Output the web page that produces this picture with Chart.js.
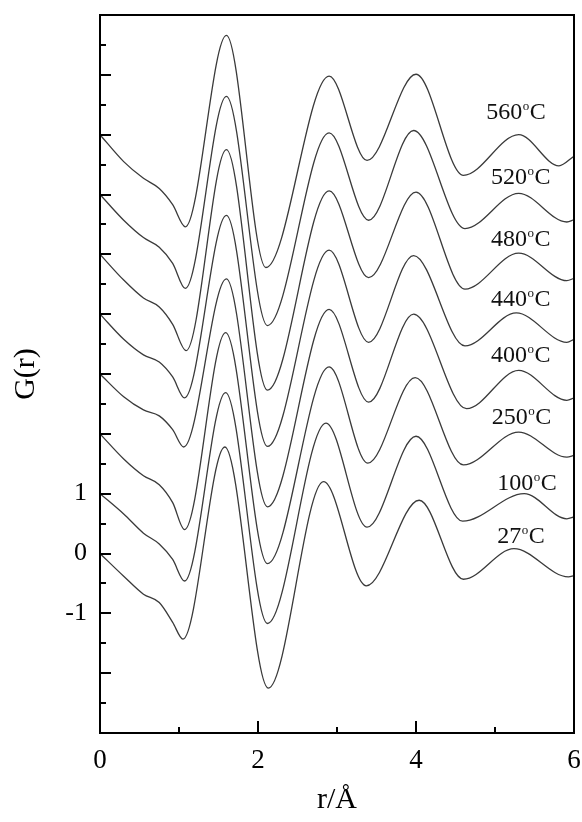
<!DOCTYPE html>
<html>
<head>
<meta charset="utf-8">
<script src="https://cdn.jsdelivr.net/npm/chart.js@4.4.1/dist/chart.umd.min.js"></script>
<style>
html,body{margin:0;padding:0;background:#fff;}
canvas{display:block;}
</style>
</head>
<body>
<canvas id="c" width="582" height="822"></canvas>
<script>
// ---- data ----
const temperatures = ['27', '100', '250', '400', '440', '480', '520', '560'];
const offsets = [0, 1, 2, 3, 4, 5, 6, 7];

const r27  = [0, 0.3, 0.55, 0.75, 0.92, 1.05, 1.58, 2.13, 2.83, 3.37, 4.04, 4.60, 5.24, 5.93, 6];
const g27  = [0, -0.38, -0.68, -0.82, -1.15, -1.43, 1.78, -2.25, 1.20, -0.54, 0.89, -0.43, 0.08, -0.39, -0.37];
const r100 = [0, 0.3, 0.55, 0.75, 0.92, 1.07, 1.59, 2.12, 2.86, 3.38, 4.00, 4.59, 5.37, 5.91, 6];
const g100 = [0, -0.34, -0.66, -0.84, -1.10, -1.46, 1.69, -2.17, 1.18, -0.56, 0.96, -0.46, 0.00, -0.42, -0.39];
const r250 = [0, 0.3, 0.55, 0.75, 0.92, 1.07, 1.59, 2.12, 2.90, 3.39, 3.99, 4.60, 5.30, 5.91, 6];
const g250 = [0, -0.42, -0.70, -0.85, -1.15, -1.60, 1.69, -2.17, 1.12, -0.49, 0.94, -0.52, 0.03, -0.39, -0.36];
const r400 = [0, 0.3, 0.55, 0.75, 0.92, 1.06, 1.60, 2.12, 2.90, 3.40, 3.97, 4.64, 5.30, 5.91, 6];
const g400 = [0, -0.38, -0.60, -0.70, -0.93, -1.22, 1.59, -2.22, 1.08, -0.47, 1.00, -0.58, 0.06, -0.44, -0.40];
const r440 = [0, 0.3, 0.55, 0.75, 0.92, 1.07, 1.60, 2.12, 2.90, 3.40, 3.97, 4.62, 5.27, 5.91, 6];
const g440 = [0, -0.42, -0.68, -0.80, -1.05, -1.40, 1.65, -2.21, 1.07, -0.47, 0.98, -0.53, 0.02, -0.47, -0.42];
const r480 = [0, 0.3, 0.55, 0.75, 0.92, 1.09, 1.60, 2.12, 2.90, 3.40, 4.00, 4.62, 5.30, 5.91, 6];
const g480 = [0, -0.43, -0.73, -0.88, -1.17, -1.61, 1.75, -2.27, 1.06, -0.39, 1.04, -0.58, 0.02, -0.44, -0.40];
const r520 = [0, 0.3, 0.55, 0.75, 0.92, 1.08, 1.60, 2.12, 2.90, 3.40, 3.97, 4.62, 5.30, 5.91, 6];
const g520 = [0, -0.43, -0.72, -0.88, -1.15, -1.57, 1.64, -2.19, 1.03, -0.43, 1.07, -0.57, 0.02, -0.46, -0.42];
const r560 = [0, 0.3, 0.55, 0.75, 0.92, 1.08, 1.60, 2.10, 2.90, 3.38, 4.00, 4.60, 5.30, 5.81, 6];
const g560 = [0, -0.45, -0.73, -0.90, -1.17, -1.54, 1.66, -2.22, 0.98, -0.43, 1.01, -0.68, 0.00, -0.52, -0.36];

const rSeries = [r27, r100, r250, r400, r440, r480, r520, r560];
const gSeries = [g27, g100, g250, g400, g440, g480, g520, g560];

const yLabelValues = [-1, 0, 1];
const xLabelValues = [0, 2, 4, 6];

// label anchor positions (data coordinates: r, G)
const labelR = [5.03, 5.03, 4.96, 4.95, 4.95, 4.95, 4.95, 4.89];
const labelG = [0.17, 1.06, 2.17, 3.20, 4.14, 5.14, 6.17, 7.27];

// ---- build datasets ----
const datasets = gSeries.map((g, i) => ({
  label: temperatures[i] + '°C',
  data: g.map((v, j) => ({ x: rSeries[i][j], y: v + offsets[i] })),
  borderColor: '#3a3a3a',
  borderWidth: 1.3,
  pointRadius: 0,
  fill: false,
  cubicInterpolationMode: 'monotone'
}));

const serif = "'Liberation Serif', 'Times New Roman', serif";

const framePlugin = {
  id: 'framePlugin',
  afterDraw(chart) {
    const { ctx, chartArea: a, scales } = chart;
    const x = scales.x, y = scales.y;
    ctx.save();
    ctx.strokeStyle = '#000';
    ctx.lineWidth = 2;
    ctx.strokeRect(a.left, a.top, a.right - a.left, a.bottom - a.top);
    ctx.beginPath();
    y.ticks.forEach(t => {
      const p = Math.round(y.getPixelForValue(t.value));
      const len = Number.isInteger(t.value) ? 11 : 6;
      ctx.moveTo(a.left, p); ctx.lineTo(a.left + len, p);
    });
    x.ticks.forEach(t => {
      const p = Math.round(x.getPixelForValue(t.value));
      const len = (t.value % 2 === 0) ? 12 : 6;
      ctx.moveTo(p, a.bottom); ctx.lineTo(p, a.bottom - len);
    });
    ctx.stroke();

    // temperature labels
    ctx.fillStyle = '#111';
    ctx.textBaseline = 'alphabetic';
    ctx.textAlign = 'left';
    temperatures.forEach((t, i) => {
      let px = x.getPixelForValue(labelR[i]);
      const py = y.getPixelForValue(labelG[i]);
      ctx.font = '24px ' + serif;
      ctx.fillText(t, px, py);
      px += ctx.measureText(t).width + 0.5;
      ctx.font = '13px ' + serif;
      ctx.fillText('o', px, py - 9);
      px += ctx.measureText('o').width + 0.5;
      ctx.font = '24px ' + serif;
      ctx.fillText('C', px, py);
    });
    ctx.restore();
  }
};

new Chart(document.getElementById('c'), {
  type: 'line',
  data: { datasets },
  options: {
    responsive: false,
    animation: false,
    layout: { padding: { top: 15, right: 8, left: 0, bottom: 0 } },
    plugins: { legend: { display: false }, tooltip: { enabled: false } },
    scales: {
      x: {
        type: 'linear',
        min: 0, max: 6,
        afterFit(s) { s.height = 89; s.paddingLeft = 0; s.paddingRight = 0; },
        grid: { display: false, drawTicks: false },
        border: { display: false },
        ticks: {
          stepSize: 1,
          autoSkip: false,
          maxRotation: 0,
          padding: 12,
          color: '#000',
          font: { family: serif, size: 27 },
          callback: v => xLabelValues.includes(v) ? String(v) : ''
        },
        title: {
          display: true,
          text: 'r/Å',
          color: '#000',
          font: { family: serif, size: 30 },
          padding: { top: 0, bottom: 4 }
        }
      },
      y: {
        type: 'linear',
        min: -3, max: 9,
        afterFit(s) { s.width = 100; s.paddingTop = 0; s.paddingBottom = 0; },
        grid: { display: false, drawTicks: false },
        border: { display: false },
        ticks: {
          stepSize: 0.5,
          autoSkip: false,
          padding: 13,
          color: '#000',
          font: { family: serif, size: 26 },
          callback: v => yLabelValues.includes(v) ? String(v) : ''
        },
        title: {
          display: true,
          text: 'G(r)',
          color: '#000',
          font: { family: serif, size: 30 },
          padding: { top: 8, bottom: 0 }
        }
      }
    }
  },
  plugins: [framePlugin]
});
</script>
</body>
</html>
